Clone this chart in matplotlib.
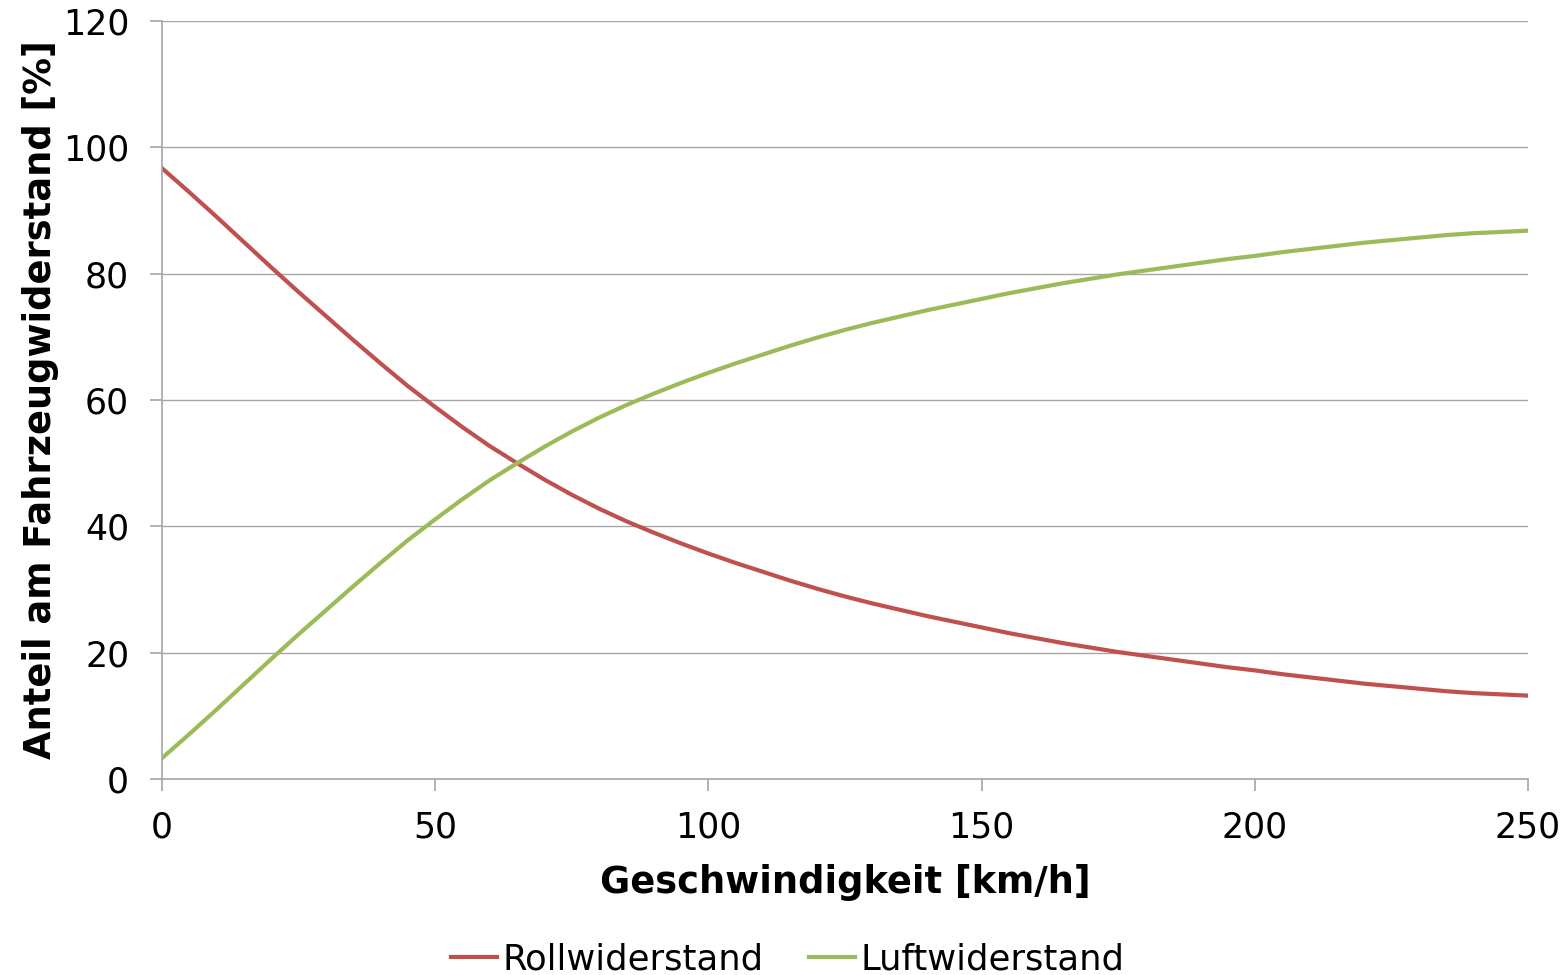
import matplotlib
matplotlib.use("Agg")
import matplotlib.pyplot as plt

# speed in km/h
speed = [0, 5, 10, 15, 20, 25, 30, 35, 40, 45, 50, 55, 60, 65, 70, 75, 80,
         85, 90, 95, 100, 105, 110, 115, 120, 125, 130, 135, 140, 145, 150,
         155, 160, 165, 170, 175, 180, 185, 190, 195, 200, 205, 210, 215,
         220, 225, 230, 235, 240, 245, 250]
# share of rolling resistance [%]
roll = [96.7, 92.9, 89.0, 85.0, 81.0, 77.1, 73.3, 69.5, 65.8, 62.2, 58.9,
        55.7, 52.7, 50.0, 47.4, 45.0, 42.8, 40.8, 39.0, 37.3, 35.7, 34.2,
        32.8, 31.4, 30.1, 28.9, 27.8, 26.8, 25.8, 24.9, 24.0, 23.1, 22.3,
        21.5, 20.8, 20.1, 19.5, 18.9, 18.3, 17.7, 17.2, 16.6, 16.1, 15.6,
        15.1, 14.7, 14.3, 13.9, 13.6, 13.4, 13.2]
# share of aerodynamic drag [%]
luft = [3.3, 7.1, 11.0, 15.0, 19.0, 22.9, 26.7, 30.5, 34.2, 37.8, 41.1,
        44.3, 47.3, 50.0, 52.6, 55.0, 57.2, 59.2, 61.0, 62.7, 64.3, 65.8,
        67.2, 68.6, 69.9, 71.1, 72.2, 73.2, 74.2, 75.1, 76.0, 76.9, 77.7,
        78.5, 79.2, 79.9, 80.5, 81.1, 81.7, 82.3, 82.8, 83.4, 83.9, 84.4,
        84.9, 85.3, 85.7, 86.1, 86.4, 86.6, 86.8]

fig = plt.figure(figsize=(15.66, 9.75), dpi=100)
ax = fig.add_axes([0.1034, 0.201, 0.8723, 0.7775])

ax.plot(speed, roll, color='#C0504D', linewidth=3.0, label='Rollwiderstand')
ax.plot(speed, luft, color='#9BBB59', linewidth=3.0, label='Luftwiderstand')

ax.set_xlim(0, 250)
ax.set_ylim(0, 120)
ax.set_xticks([0, 50, 100, 150, 200, 250])
ax.set_yticks([0, 20, 40, 60, 80, 100, 120])
ax.grid(axis='y', color='#A6A6A6', linewidth=1)
ax.set_axisbelow(True)
for s in ['top', 'right']:
    ax.spines[s].set_visible(False)
for s in ['left', 'bottom']:
    ax.spines[s].set_color('#A6A6A6')
    ax.spines[s].set_linewidth(1.2)
ax.tick_params(axis='both', colors='#A6A6A6', labelcolor='black',
               labelsize=25, length=8.6, width=1.2)
ax.tick_params(axis='x', pad=14)
ax.tick_params(axis='y', pad=15)

ax.set_xlabel('Geschwindigkeit [km/h]', fontsize=26.5, fontweight='bold', labelpad=14)
ax.set_ylabel('Anteil am Fahrzeugwiderstand [%]', fontsize=26.5, fontweight='bold', labelpad=3)

fig.legend(loc='lower center', bbox_to_anchor=(0.503, -0.034), ncol=2, frameon=False,
           fontsize=25.5, handlelength=1.3, handletextpad=0.15, columnspacing=1.3)

fig.savefig('out.png', dpi=100, facecolor='white')
